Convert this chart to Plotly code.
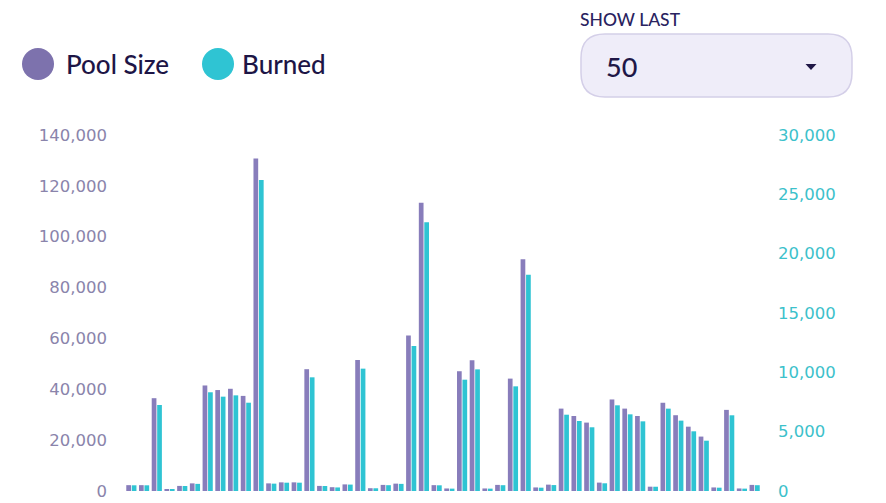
import plotly.graph_objects as go

# ---- data ----
rounds = list(range(1, 51))
pool_size = [2300, 2300, 36500, 800, 2000, 3000, 41500, 39700, 40200, 37400,
             130800, 3000, 3400, 3400, 47900, 2000, 1500, 2600, 51500, 1100,
             2400, 2900, 61200, 113400, 2300, 1000, 47100, 51400, 1000, 2400,
             44200, 91100, 1400, 2500, 32400, 29500, 26900, 3300, 36000, 32400,
             29500, 1700, 34700, 29800, 25300, 21400, 1400, 31900, 1000, 2400]
burned = [480, 480, 7250, 170, 420, 600, 8320, 7950, 8060, 7440,
          26200, 620, 700, 700, 9580, 420, 300, 540, 10310, 230,
          490, 600, 12220, 22640, 480, 200, 9380, 10250, 200, 490,
          8820, 18230, 280, 500, 6430, 5900, 5370, 650, 7220, 6460,
          5870, 360, 6940, 5930, 5030, 4240, 280, 6380, 200, 490]
left_ticks = [0, 20000, 40000, 60000, 80000, 100000, 120000, 140000]
right_ticks = [0, 5000, 10000, 15000, 20000, 25000, 30000]
legend_labels = ["Pool Size", "Burned"]
dropdown_label = "SHOW LAST"
dropdown_value = "50"

POOL_COLOR = "#887dbb"
BURN_COLOR = "#2fc4d3"
W, H = 886, 503
OFF = 8  # page body margin offset
# plot area in reference-pixel coordinates
PL, PR, PT, PB = 125, 761, 135, 491
L, T = PL - OFF, PT - OFF
R = W - (PR - OFF)
B = H - (PB - OFF)
PW, PH = PR - PL, PB - PT


def px(x):
    return (x - PL) / PW


def py(y):
    return (PB - y) / PH


fig = go.Figure()
fig.add_trace(go.Bar(x=rounds, y=pool_size, name=legend_labels[0], marker_color=POOL_COLOR,
                     marker_line_width=0, width=0.37, offset=-0.4, yaxis="y"))
fig.add_trace(go.Bar(x=rounds, y=burned, name=legend_labels[1], marker_color=BURN_COLOR,
                     marker_line_width=0, width=0.37, offset=0.03, yaxis="y2"))

tickfont = dict(family="DejaVu Sans", size=16.5)
fig.update_layout(
    width=W, height=H,
    margin=dict(l=L, r=R, t=T, b=B, pad=0),
    paper_bgcolor="white", plot_bgcolor="white",
    showlegend=False,
    barmode="overlay",
    xaxis=dict(range=[0.5, 50.5], showticklabels=False, showgrid=False, zeroline=False,
               showline=False, ticks="", automargin=False),
    yaxis=dict(range=[0, 140000], tickvals=left_ticks, tickformat=",d", showgrid=False,
               zeroline=False, showline=False, ticks="", ticklabelstandoff=17,
               automargin=False, tickfont=dict(color="#8a84ab", **tickfont)),
    yaxis2=dict(range=[0, 30000], tickvals=right_ticks, tickformat=",d", overlaying="y",
                side="right", showgrid=False, zeroline=False, showline=False, ticks="",
                ticklabelstandoff=16, automargin=False,
                tickfont=dict(color="#3cc1cb", **tickfont)),
)

shapes = []
annotations = []
# legend circles + labels
for cx, lx, col, lab in [(38, 64, "#7d72ad", legend_labels[0]), (218, 240, BURN_COLOR, legend_labels[1])]:
    r = 16
    shapes.append(dict(type="circle", xref="paper", yref="paper",
                       x0=px(cx - r), x1=px(cx + r), y0=py(64 + r), y1=py(64 - r),
                       fillcolor=col, line_width=0))
    annotations.append(dict(text=lab, xref="paper", yref="paper", x=px(lx), y=py(64),
                            xanchor="left", yanchor="middle", showarrow=False,
                            font=dict(family="Lato", size=26, color="#1d1546", weight=500)))

# dropdown box (rounded rectangle)
x0, x1, y0, y1, rad = 581, 852, 34, 97, 24


def P(x, y):
    return f"{px(x):.5f},{py(y):.5f}"


path = (f"M {P(x0 + rad, y0)} L {P(x1 - rad, y0)} Q {P(x1, y0)} {P(x1, y0 + rad)} "
        f"L {P(x1, y1 - rad)} Q {P(x1, y1)} {P(x1 - rad, y1)} L {P(x0 + rad, y1)} "
        f"Q {P(x0, y1)} {P(x0, y1 - rad)} L {P(x0, y0 + rad)} Q {P(x0, y0)} {P(x0 + rad, y0)} Z")
shapes.append(dict(type="path", xref="paper", yref="paper", path=path,
                   fillcolor="#efedf9", line=dict(color="#d4cfe8", width=1.5)))
# dropdown arrow
shapes.append(dict(type="path", xref="paper", yref="paper",
                   path=f"M {P(805.5, 64)} L {P(816.5, 64)} L {P(811, 70)} Z",
                   fillcolor="#1f1747", line_width=0))
annotations.append(dict(text=dropdown_label, xref="paper", yref="paper", x=px(578), y=py(19),
                        xanchor="left", yanchor="middle", showarrow=False,
                        font=dict(family="Lato", size=17.5, color="#2a2360", weight=500)))
annotations.append(dict(text=dropdown_value, xref="paper", yref="paper", x=px(604), y=py(67),
                        xanchor="left", yanchor="middle", showarrow=False,
                        font=dict(family="Lato", size=27, color="#1f1747", weight=500)))

fig.update_layout(shapes=shapes, annotations=annotations)
fig.write_html("out.html")
